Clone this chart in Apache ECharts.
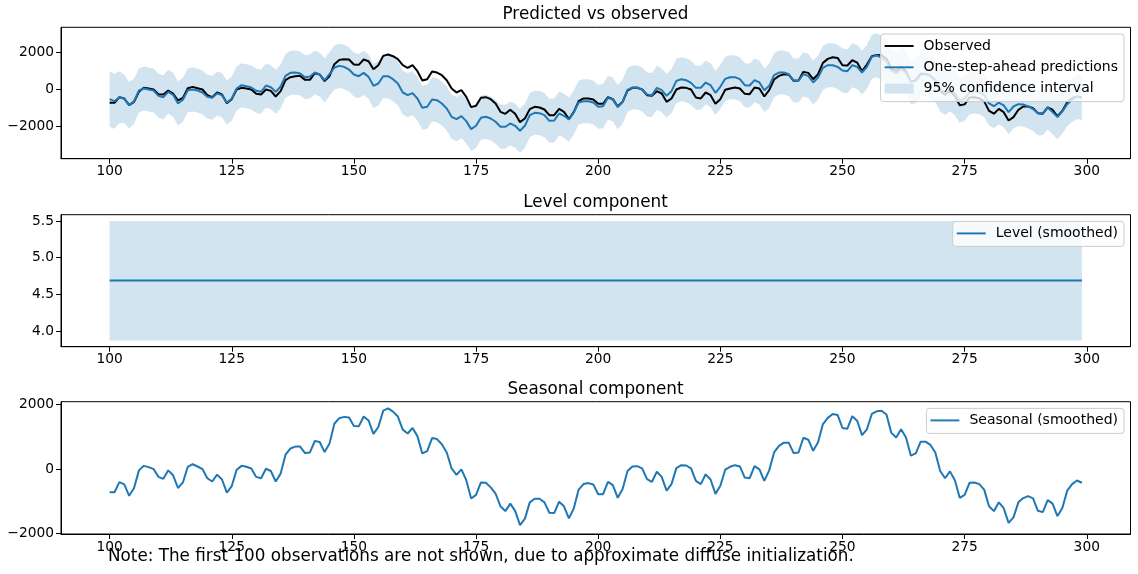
<!DOCTYPE html>
<html>
<head>
<meta charset="utf-8">
<script src="https://cdn.jsdelivr.net/npm/echarts@6/dist/echarts.min.js"></script>
<style>
  html, body { margin: 0; padding: 0; background: #fff; }
  #main { width: 1138px; height: 574px; }
</style>
</head>
<body>
<div id="main"></div>
<script>
// time index of the first plotted observation (first 100 are dropped)
var firstStep = 100;

var observed = [
  -716,-716,-412,-483,-841,-662,-125,90,54,0,
  -251,-268,-54,-215,-591,-448,72,143,72,0,
  -304,-412,-161,-268,-734,-519,0,90,54,0,
  -233,-268,0,-72,-376,-90,501,662,716,734,
  519,519,877,806,448,716,1360,1593,1629,1611,
  1343,1325,1611,1522,1092,1307,1808,1880,1790,1629,
  1307,1164,1307,985,483,555,967,913,770,501,
  54,-161,-36,-394,-949,-877,-448,-412,-519,-752,
  -1199,-1307,-1092,-1307,-1754,-1557,-1056,-931,-967,-1074,
  -1378,-1378,-1038,-1199,-1593,-1217,-627,-483,-483,-537,
  -770,-770,-412,-519,-913,-662,-54,90,90,0,
  -304,-340,-90,-215,-662,-483,0,107,90,0,
  -430,-483,-161,-304,-770,-519,-18,54,107,54,
  -233,-251,107,54,-376,-36,537,734,823,806,
  465,483,949,895,555,823,1432,1647,1736,1700,
  1307,1290,1575,1450,985,1343,1790,1860,1844,1650,
  1130,1000,1230,980,420,500,850,840,740,500,
  -60,-280,-80,-350,-850,-800,-430,-420,-480,-640,
  -1150,-1300,-1040,-1220,-1665,-1486,-1092,-913,-913,-1000,
  -1271,-1300,-967,-1090,-1440,-1150,-680,-465,-376,-430
];

var predicted = [
  -519,-627,-412,-501,-841,-627,-54,54,0,-54,
  -340,-412,-125,-286,-752,-555,-36,0,-54,-161,
  -394,-448,-215,-304,-716,-483,54,233,179,107,
  -72,-125,215,125,-125,161,734,895,913,859,
  662,698,913,806,501,823,1181,1271,1217,1074,
  806,716,895,680,197,322,716,716,555,322,
  -161,-304,-197,-483,-985,-931,-537,-573,-752,-1020,
  -1468,-1593,-1432,-1700,-2130,-1951,-1521,-1468,-1557,-1736,
  -2005,-2005,-1826,-1951,-2220,-1951,-1378,-1253,-1271,-1378,
  -1683,-1665,-1289,-1414,-1611,-1235,-698,-627,-627,-698,
  -931,-895,-448,-537,-949,-662,-18,107,107,0,
  -268,-304,90,-36,-340,-90,465,555,501,358,
  90,90,376,233,-179,143,573,662,662,555,
  233,215,501,376,-36,197,770,913,913,823,
  483,483,823,734,376,644,1164,1307,1307,1217,
  1020,985,1307,1217,913,1217,1754,1844,1700,1500,
  1000,880,1100,900,400,450,800,820,720,500,
  0,-180,20,-200,-600,-500,-150,-100,-150,-300,
  -750,-900,-700,-850,-1217,-913,-788,-800,-913,-1050,
  -1271,-1271,-967,-1217,-1486,-1181,-788,-555,-400,-450
];

// half width of the 95% interval: wider for the first steps, then steady
var ciHalfStart = [1500, 1480, 1400, 1300, 1250, 1220];
var ciHalfSteady = 1185;

// smoothed level is flat
var levelValue = 4.69;
var levelLower = 3.87;
var levelUpper = 5.50;

var seasonal = [
  -717,-717,-404,-475,-828,-586,-40,100,60,0,
  -242,-303,-40,-192,-586,-414,70,150,80,0,
  -283,-384,-172,-323,-727,-525,-20,100,70,20,
  -242,-283,10,-60,-384,-141,444,636,697,697,
  495,515,869,838,525,788,1404,1576,1616,1596,
  1333,1323,1626,1505,1091,1303,1808,1879,1778,1626,
  1222,1101,1272,1020,485,556,960,929,768,515,
  20,-182,-10,-343,-909,-798,-414,-424,-566,-758,
  -1151,-1303,-1071,-1293,-1737,-1535,-1030,-919,-919,-1030,
  -1353,-1363,-1010,-1151,-1525,-1222,-636,-465,-434,-475,
  -778,-778,-394,-495,-889,-616,-61,81,91,20,
  -313,-394,-81,-242,-667,-465,30,121,111,20,
  -364,-465,-162,-323,-768,-515,-20,71,121,81,
  -263,-283,91,-10,-364,-40,515,717,818,818,
  495,515,970,909,566,828,1394,1586,1707,1677,
  1272,1252,1636,1495,1050,1232,1707,1788,1808,1687,
  1121,980,1232,980,414,485,848,848,747,515,
  -61,-283,-71,-343,-889,-798,-424,-414,-465,-636,
  -1151,-1303,-1030,-1212,-1667,-1495,-1030,-899,-838,-909,
  -1293,-1333,-960,-1071,-1454,-1202,-667,-465,-354,-424
];

var xTicks = [100, 125, 150, 175, 200, 225, 250, 275, 300];
var topTicks = [-2000, 0, 2000];
var levelTicks = [4.0, 4.5, 5.0, 5.5];
var seasonalTicks = [-2000, 0, 2000];

var BLUE = '#1f77b4';
var BAND = '#d2e4f0';
var FONT = 'DejaVu Sans';
var LINE_ICON = 'path://M0,0H30V2H0Z';

function pairs(arr) {
  return arr.map(function (v, i) { return [firstStep + i, v]; });
}
function halfAt(i) {
  return i < ciHalfStart.length ? ciHalfStart[i] : ciHalfSteady;
}
function minus(v) {
  return v < 0 ? '\u2212' + Math.abs(v) : String(v);
}

var ciBand = predicted.map(function (v, i) {
  return [firstStep + i, v - halfAt(i), v + halfAt(i)];
});
var lvlBand = seasonal.map(function (v, i) {
  return [firstStep + i, levelLower, levelUpper];
});
var lvlLine = seasonal.map(function () { return levelValue; });

// filled band drawn as one polygon through the axis scale
function bandSeries(idx, name, band) {
  return {
    type: 'custom', name: name, xAxisIndex: idx, yAxisIndex: idx,
    data: band, encode: { x: 0, y: [1, 2] },
    color: BAND, itemStyle: { color: BAND }, silent: true, z: 1,
    renderItem: function (params, api) {
      if (params.dataIndex !== 0) return null;
      var pts = [];
      band.forEach(function (d) { pts.push(api.coord([d[0], d[2]])); });
      for (var i = band.length - 1; i >= 0; i--) pts.push(api.coord([band[i][0], band[i][1]]));
      return { type: 'polygon', shape: { points: pts }, style: { fill: BAND } };
    }
  };
}

var chart = echarts.init(document.getElementById('main'));

function xAxis(idx) {
  return {
    type: 'value', gridIndex: idx, min: 90.05, max: 308.95,
    axisLine: { show: true, onZero: false, lineStyle: { color: '#000', width: 1 } },
    axisTick: { show: true, length: 5, customValues: xTicks, lineStyle: { color: '#000' } },
    axisLabel: { customValues: xTicks, color: '#000', fontSize: 13.8, fontFamily: FONT, margin: 6 },
    splitLine: { show: false }
  };
}
function yAxis(idx, min, max, ticks, fmt) {
  return {
    type: 'value', gridIndex: idx, min: min, max: max,
    axisLine: { show: true, onZero: false, lineStyle: { color: '#000', width: 1 } },
    axisTick: { show: true, length: 5, customValues: ticks, lineStyle: { color: '#000' } },
    axisLabel: { customValues: ticks, color: '#000', fontSize: 13.8, fontFamily: FONT, margin: 7, formatter: fmt },
    splitLine: { show: false }
  };
}
function legendBox(top, names) {
  return {
    orient: 'vertical', right: 14, top: top,
    data: names, selectedMode: false,
    itemWidth: 29, itemHeight: 10, itemGap: 7.3,
    padding: [5, 6, 6, 4],
    backgroundColor: 'rgba(255,255,255,0.8)',
    borderColor: '#cccccc', borderWidth: 1, borderRadius: 3,
    textStyle: { color: '#000', fontSize: 14, fontFamily: FONT, padding: [0, 0, 0, 5] }
  };
}
function titleText(txt, y) {
  return {
    type: 'text', x: 595.5, y: y, z: 10,
    style: { text: txt, font: '16.8px "DejaVu Sans"', fill: '#000',
      align: 'center', verticalAlign: 'middle', textAlign: 'center', textVerticalAlign: 'middle' }
  };
}

var option = {
  animation: false,
  backgroundColor: '#fff',
  grid: [
    { left: 61, right: 7.5, top: 27.3, height: 131.4, show: true, borderColor: '#000', borderWidth: 1 },
    { left: 61, right: 7.5, top: 214.7, height: 132, show: true, borderColor: '#000', borderWidth: 1 },
    { left: 61, right: 7.5, top: 401.7, height: 132.3, show: true, borderColor: '#000', borderWidth: 1 }
  ],
  xAxis: [xAxis(0), xAxis(1), xAxis(2)],
  yAxis: [
    yAxis(0, -3721, 3345, topTicks, minus),
    yAxis(1, 3.786, 5.586, levelTicks, function (v) { return v.toFixed(1); }),
    yAxis(2, -2010, 2086, seasonalTicks, minus)
  ],
  legend: [
    legendBox(34, [
      { name: 'Observed', icon: LINE_ICON },
      { name: 'One-step-ahead predictions', icon: LINE_ICON },
      { name: '95% confidence interval', icon: 'rect' }
    ]),
    legendBox(221.4, [{ name: 'Level (smoothed)', icon: LINE_ICON }]),
    legendBox(408.4, [{ name: 'Seasonal (smoothed)', icon: LINE_ICON }])
  ],
  graphic: [
    titleText('Predicted vs observed', 15),
    titleText('Level component', 203),
    titleText('Seasonal component', 390),
    {
      type: 'text', x: 108, y: 557, z: 10,
      style: { text: 'Note: The first 100 observations are not shown, due to approximate diffuse initialization.',
        font: '16.8px "DejaVu Sans"', fill: '#000', verticalAlign: 'middle', textVerticalAlign: 'middle' }
    }
  ],
  series: [
    bandSeries(0, '95% confidence interval', ciBand),
    { type: 'line', name: 'Observed', xAxisIndex: 0, yAxisIndex: 0, data: pairs(observed),
      symbol: 'none', color: '#000', lineStyle: { color: '#000', width: 2 }, z: 2 },
    { type: 'line', name: 'One-step-ahead predictions', xAxisIndex: 0, yAxisIndex: 0, data: pairs(predicted),
      symbol: 'none', color: BLUE, lineStyle: { color: BLUE, width: 2 }, z: 3 },

    bandSeries(1, 'lvlBand', lvlBand),
    { type: 'line', name: 'Level (smoothed)', xAxisIndex: 1, yAxisIndex: 1, data: pairs(lvlLine),
      symbol: 'none', color: BLUE, lineStyle: { color: BLUE, width: 2 }, z: 3 },

    { type: 'line', name: 'Seasonal (smoothed)', xAxisIndex: 2, yAxisIndex: 2, data: pairs(seasonal),
      symbol: 'none', color: BLUE, lineStyle: { color: BLUE, width: 2 }, z: 3 }
  ]
};

chart.setOption(option);
</script>
</body>
</html>
